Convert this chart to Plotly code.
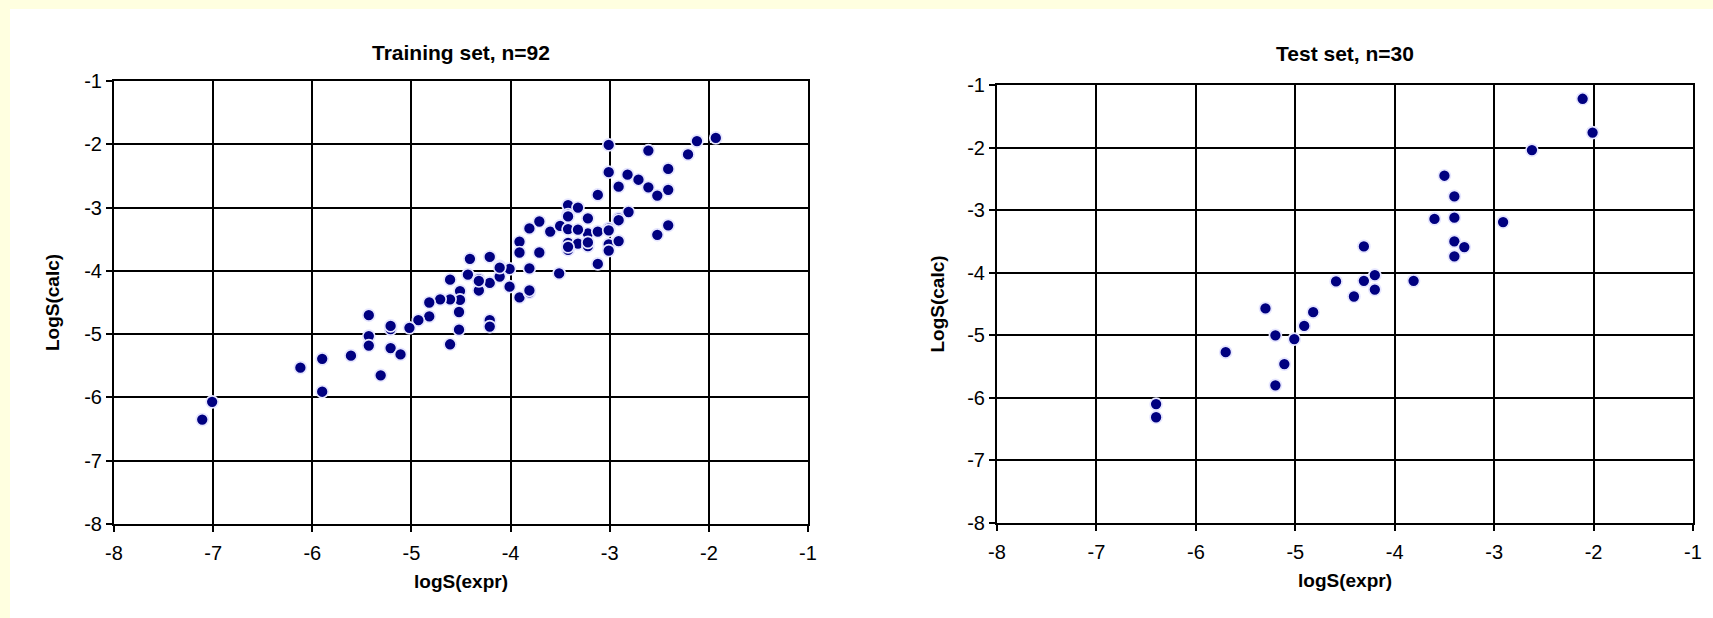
import plotly.graph_objects as go

# ---------------- data ----------------
train_x = [-1.93, -2.12, -2.21, -2.61, -3.01, -2.41, -3.01, -2.82, -2.71, -2.91,
           -2.61, -2.41, -2.52, -3.12, -3.42, -3.32, -3.42, -2.81, -2.91, -3.22,
           -3.01, -3.71, -3.81, -3.60, -3.50, -3.42, -3.22, -3.12, -3.01, -3.01,
           -2.91, -3.42, -3.32, -3.22, -3.42, -2.41, -2.52, -3.12, -3.91, -3.91,
           -3.71, -3.51, -3.81, -4.01, -4.11, -4.21, -4.41, -4.43, -4.32, -4.21,
           -4.11, -4.01, -3.91, -3.81, -4.32, -4.21, -4.21, -4.61, -4.51, -4.51,
           -4.61, -4.71, -4.82, -4.52, -4.82, -4.93, -5.02, -4.52, -4.61, -5.43,
           -5.21, -5.43, -5.43, -5.21, -5.11, -5.61, -5.31, -6.12, -5.90, -5.90,
           -7.01, -7.11, -5.21, -3.32, -3.42, -3.22, -2.91, -3.01, -4.11, -3.81,
           -4.32, -3.42]
train_y = [-1.90, -1.95, -2.16, -2.10, -2.01, -2.39, -2.44, -2.48, -2.56, -2.67,
           -2.68, -2.72, -2.81, -2.80, -2.96, -3.00, -3.11, -3.07, -3.17, -3.17,
           -3.33, -3.22, -3.33, -3.38, -3.29, -3.34, -3.41, -3.38, -3.58, -3.68,
           -3.53, -3.56, -3.57, -3.61, -3.67, -3.28, -3.43, -3.89, -3.54, -3.71,
           -3.71, -4.04, -3.96, -3.97, -3.93, -3.78, -3.81, -4.06, -4.13, -4.19,
           -4.09, -4.25, -4.42, -4.34, -4.31, -4.78, -4.88, -4.14, -4.32, -4.46,
           -4.45, -4.45, -4.50, -4.65, -4.72, -4.78, -4.90, -4.93, -5.16, -4.70,
           -4.92, -5.03, -5.18, -5.22, -5.32, -5.34, -5.65, -5.53, -5.39, -5.91,
           -6.07, -6.35, -4.87, -3.35, -3.62, -3.55, -3.20, -3.36, -3.95, -4.31,
           -4.16, -3.14]

test_x = [-2.11, -2.01, -2.62, -3.50, -3.40, -3.60, -3.40, -2.91, -3.40, -3.30,
          -3.40, -4.31, -4.59, -4.31, -4.20, -4.20, -4.41, -3.81, -6.40, -6.40,
          -5.70, -5.30, -5.20, -5.01, -4.91, -4.82, -5.11, -5.20]
test_y = [-1.22, -1.76, -2.04, -2.45, -2.78, -3.14, -3.12, -3.19, -3.50, -3.59,
          -3.74, -3.58, -4.14, -4.13, -4.04, -4.27, -4.38, -4.13, -6.10, -6.31,
          -5.27, -4.57, -5.00, -5.06, -4.85, -4.63, -5.46, -5.80]

tick_vals = [-8, -7, -6, -5, -4, -3, -2, -1]
tick_text = ["-8", "-7", "-6", "-5", "-4", "-3", "-2", "-1"]
titles = ["Training set, n=92", "Test set, n=30"]
x_title = "logS(expr)"
y_title = "LogS(calc)"

# ---------------- layout geometry ----------------
W, H = 1713, 618
def px_x(p):
    return p / W
def px_y(p):
    return 1 - p / H

left_dom_x = [px_x(114), px_x(808)]
left_dom_y = [px_y(524), px_y(81)]
right_dom_x = [px_x(997), px_x(1693)]
right_dom_y = [px_y(523), px_y(85)]

FONT = "Arial, Liberation Sans, sans-serif"
marker = dict(color="#000080", size=12, line=dict(color="#E6E6FF", width=1.7))
tick_font = dict(family=FONT, size=20, color="black")
axt_font = dict(family=FONT, size=19, color="black", weight="bold")
ttl_font = dict(family=FONT, size=21, color="black", weight="bold")

fig = go.Figure()
fig.add_trace(go.Scatter(x=train_x, y=train_y, mode="markers", marker=marker,
                         xaxis="x", yaxis="y", showlegend=False))
fig.add_trace(go.Scatter(x=test_x, y=test_y, mode="markers", marker=marker,
                         xaxis="x2", yaxis="y2", showlegend=False))

def axis_common():
    return dict(range=[-8, -1], tickvals=tick_vals, ticktext=tick_text,
                showgrid=True, gridcolor="black", gridwidth=1.6,
                showline=True, linecolor="black", linewidth=2, mirror=True,
                ticks="outside", ticklen=6, tickwidth=1.5, tickcolor="black",
                zeroline=False, fixedrange=True, tickfont=tick_font,
                automargin=False)

xa = axis_common(); xa.update(domain=left_dom_x, anchor="y", ticklabelstandoff=4,
    title=dict(text=x_title, font=axt_font, standoff=12))
ya = axis_common(); ya.update(domain=left_dom_y, anchor="x",
    title=dict(text=y_title, font=axt_font, standoff=20))
xa2 = axis_common(); xa2.update(domain=right_dom_x, anchor="y2", ticklabelstandoff=4,
    title=dict(text=x_title, font=axt_font, standoff=12))
ya2 = axis_common(); ya2.update(domain=right_dom_y, anchor="x2",
    title=dict(text=y_title, font=axt_font, standoff=18))

fig.update_layout(
    width=W, height=H, autosize=False,
    margin=dict(l=0, r=0, t=0, b=0, pad=0, autoexpand=False),
    paper_bgcolor="#FFFFE0", plot_bgcolor="#CCCCCC",
    xaxis=xa, yaxis=ya, xaxis2=xa2, yaxis2=ya2,
    shapes=[dict(type="rect", xref="paper", yref="paper",
                 x0=px_x(10), x1=1, y0=0, y1=px_y(9),
                 fillcolor="white", line=dict(width=0), layer="below")],
    annotations=[
        dict(text=titles[0], xref="paper", yref="paper",
             x=(left_dom_x[0] + left_dom_x[1]) / 2, y=px_y(52),
             xanchor="center", yanchor="middle", showarrow=False, font=ttl_font),
        dict(text=titles[1], xref="paper", yref="paper",
             x=(right_dom_x[0] + right_dom_x[1]) / 2, y=px_y(54),
             xanchor="center", yanchor="middle", showarrow=False, font=ttl_font),
    ],
)

fig.write_html("out.html", config={"displayModeBar": False},
               post_script="document.body.style.margin='0';"
                           "document.body.style.overflow='hidden';")
